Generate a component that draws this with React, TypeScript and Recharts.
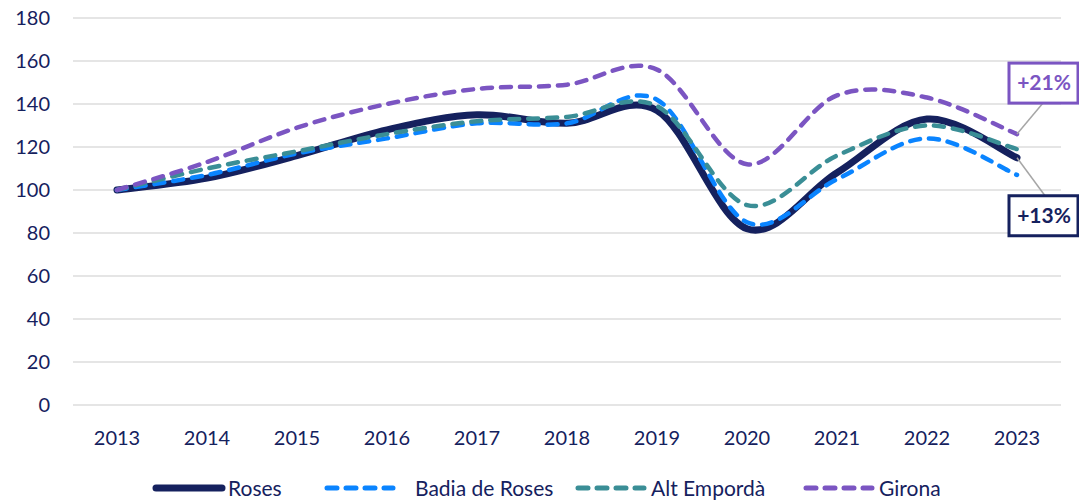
import React from "react";
import { LineChart, Line, XAxis, YAxis, CartesianGrid, LabelList } from "recharts";

const years = ["2013", "2014", "2015", "2016", "2017", "2018", "2019", "2020", "2021", "2022", "2023"];
const roses = [100, 105.5, 116, 128, 135, 131, 137, 82, 108, 133, 115];
const badia = [100, 107, 117, 124, 131, 131, 142, 85, 105, 124, 107];
const altEmporda = [100, 110, 118, 126, 132, 134, 139, 93, 116, 130, 119];
const girona = [100, 113, 129, 140, 147, 149, 156, 112, 144, 143, 126];
const yTicks = [0, 20, 40, 60, 80, 100, 120, 140, 160, 180];
const endLabels = { roses: "+13%", girona: "+21%" };

const data = years.map((y, i) => ({
  year: y,
  roses: roses[i],
  badia: badia[i],
  alt: altEmporda[i],
  girona: girona[i],
}));

const NAVY = "#15215E";
const BLUE = "#0A84FF";
const TEAL = "#3A8E96";
const PURPLE = "#7B55C2";
const FONT = "Lato, 'Open Sans', sans-serif";

// smooth curve like the spreadsheet's "smoothed line"
function smoothCurve(context: any) {
  let pts: number[][] = [];
  return {
    areaStart() {},
    areaEnd() {},
    lineStart() {
      pts = [];
    },
    point(x: number, y: number) {
      pts.push([+x, +y]);
    },
    lineEnd() {
      if (!pts.length) return;
      context.moveTo(pts[0][0], pts[0][1]);
      const t = 1 / 6;
      for (let i = 0; i < pts.length - 1; i++) {
        const p0 = pts[i - 1] || pts[i];
        const p1 = pts[i];
        const p2 = pts[i + 1];
        const p3 = pts[i + 2] || p2;
        context.bezierCurveTo(
          p1[0] + (p2[0] - p0[0]) * t,
          p1[1] + (p2[1] - p0[1]) * t,
          p2[0] - (p3[0] - p1[0]) * t,
          p2[1] - (p3[1] - p1[1]) * t,
          p2[0],
          p2[1]
        );
      }
    },
  };
}

const makeEndLabel = (text: string, color: string, up: boolean) => (props: any) => {
  const { x, y, index } = props;
  if (index !== years.length - 1) return null;
  const bx = x - 8;
  const by = up ? y - 71 : y + 38;
  const lx = up ? x + 26 : x + 28;
  const ly = up ? by + 40 : by;
  return (
    <g>
      <line x1={x} y1={y} x2={lx} y2={ly} stroke="#A6A6A6" strokeWidth={1.5} />
      <rect x={bx} y={by} width={69} height={40} fill="#fff" stroke={color} strokeWidth={3} />
      <text x={bx + 35} y={by + 27} textAnchor="middle" fill={color} fontSize={21} fontWeight={700} fontFamily={FONT}>
        {text}
      </text>
    </g>
  );
};

const legendItems = [
  { name: "Roses", color: NAVY, width: 7, dash: undefined, left: 152, gap: 2 },
  { name: "Badia de Roses", color: BLUE, width: 5, dash: "10 9", left: 323, gap: 18 },
  { name: "Alt Empordà", color: TEAL, width: 5, dash: "10 9", left: 574, gap: 3 },
  { name: "Girona", color: PURPLE, width: 5, dash: "10 9", left: 802, gap: 3 },
];

function Legend() {
  return (
    <div style={{ position: "absolute", top: 475, left: 0, width: 1079, height: 26, fontFamily: FONT, fontSize: 21, color: NAVY }}>
      {legendItems.map((it) => (
        <div key={it.name} style={{ position: "absolute", left: it.left, top: 0, display: "flex", alignItems: "center", whiteSpace: "nowrap" }}>
          <svg width={74} height={24}>
            <line x1={4} y1={12} x2={70} y2={12} stroke={it.color} strokeWidth={it.width} strokeDasharray={it.dash} strokeLinecap="round" />
          </svg>
          <span style={{ marginLeft: it.gap }}>{it.name}</span>
        </div>
      ))}
    </div>
  );
}

export default function App() {
  return (
    <div style={{ position: "fixed", top: 0, left: 0, width: 1079, height: 500, background: "#fff" }}>
      <LineChart width={1079} height={500} data={data} margin={{ top: 18, right: 18, left: 0, bottom: 45 }}>
        <CartesianGrid vertical={false} stroke="#DCDCDC" strokeWidth={1.5} />
        <XAxis
          dataKey="year"
          height={50}
          padding={{ left: 44, right: 44 }}
          axisLine={false}
          tickLine={false}
          tickMargin={20}
          tick={{ fill: NAVY, fontSize: 20, fontFamily: FONT }}
        />
        <YAxis
          width={73}
          domain={[0, 180]}
          ticks={yTicks}
          axisLine={false}
          tickLine={false}
          tickMargin={17}
          tick={{ fill: NAVY, fontSize: 20, fontFamily: FONT }}
        />
        <Line dataKey="roses" type={smoothCurve as any} stroke={NAVY} strokeWidth={7} strokeLinecap="round" dot={false} isAnimationActive={false}>
          <LabelList content={makeEndLabel(endLabels.roses, NAVY, false)} />
        </Line>
        <Line dataKey="badia" type={smoothCurve as any} stroke={BLUE} strokeWidth={4.5} strokeDasharray="10 9" strokeLinecap="round" dot={false} isAnimationActive={false} />
        <Line dataKey="alt" type={smoothCurve as any} stroke={TEAL} strokeWidth={4.5} strokeDasharray="10 9" strokeLinecap="round" dot={false} isAnimationActive={false} />
        <Line dataKey="girona" type={smoothCurve as any} stroke={PURPLE} strokeWidth={4.5} strokeDasharray="10 9" strokeLinecap="round" dot={false} isAnimationActive={false}>
          <LabelList content={makeEndLabel(endLabels.girona, PURPLE, true)} />
        </Line>
      </LineChart>
      <Legend />
    </div>
  );
}
